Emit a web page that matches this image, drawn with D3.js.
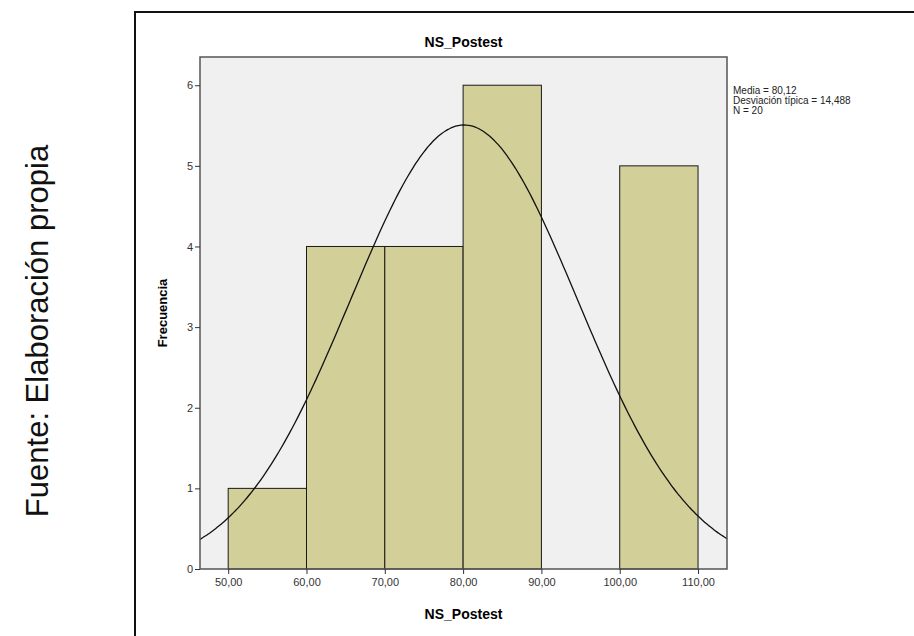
<!DOCTYPE html>
<html>
<head>
<meta charset="utf-8">
<script src="https://cdn.jsdelivr.net/npm/d3@7"></script>
<style>
  body { margin: 0; background: #fff; }
  svg text { font-family: Arial, "Liberation Sans", sans-serif; }
  .tick text { font-size: 11px; fill: #333; }
  .tick line { stroke: #333; }
</style>
</head>
<body>
<svg id="chart"></svg>
<script>
// Histogram bins (lower edge, upper edge) and counts
const binStarts = [50, 60, 70, 80, 90, 100];
const binEnds = [60, 70, 80, 90, 100, 110];
const counts = [1, 4, 4, 6, 0, 5];

// Summary stats printed beside the chart (used for the normal curve)
const mean = 80.12;
const stdDev = 14.488;
const nTotal = 20;

const xTicks = [50, 60, 70, 80, 90, 100, 110];
const yTicks = [0, 1, 2, 3, 4, 5, 6];
const statLines = ['Media = 80,12', 'Desviación típica = 14,488', 'N = 20'];

const width = 914, height = 636;
const margin = { top: 57, right: 187, bottom: 67, left: 200 };
const innerW = width - margin.left - margin.right;
const innerH = height - margin.top - margin.bottom;

const svg = d3.select('#chart')
  .attr('width', width)
  .attr('height', height);

// source note on the far left
svg.append('text')
  .attr('transform', `translate(48,${331}) rotate(-90)`)
  .attr('text-anchor', 'middle')
  .style('font-size', '31px')
  .style('fill', '#111')
  .text('Fuente: Elaboración propia');

// outer frame of the figure
svg.append('path')
  .attr('d', `M135,${height} V12 H${width}`)
  .attr('fill', 'none')
  .attr('stroke', '#111')
  .attr('stroke-width', 2);

const chart = svg.append('g')
  .attr('transform', `translate(${margin.left},${margin.top})`);

const xScale = d3.scaleLinear().domain([46.4, 113.7]).range([0, innerW]);
const yScale = d3.scaleLinear().domain([0, 6.35]).range([innerH, 0]);

chart.append('rect')
  .attr('width', innerW)
  .attr('height', innerH)
  .attr('fill', '#f0f0f0');

// bars
chart.selectAll('.bar')
  .data(counts.map((c, i) => ({ x0: binStarts[i], x1: binEnds[i], c })).filter(d => d.c > 0))
  .join('rect')
  .attr('class', 'bar')
  .attr('x', d => xScale(d.x0))
  .attr('width', d => xScale(d.x1) - xScale(d.x0))
  .attr('y', d => yScale(d.c))
  .attr('height', d => yScale(0) - yScale(d.c))
  .attr('fill', '#d3cf98')
  .attr('stroke', '#1a1a1a')
  .attr('stroke-width', 1);

// fitted normal curve, scaled to counts with bin width 10
const binWidth = 10;
const [xa, xb] = xScale.domain();
const curvePts = d3.range(0, 201).map(i => {
  const x = xa + (xb - xa) * i / 200;
  const z = (x - mean) / stdDev;
  return [x, nTotal * binWidth * Math.exp(-0.5 * z * z) / (stdDev * Math.sqrt(2 * Math.PI))];
});
chart.append('path')
  .datum(curvePts)
  .attr('fill', 'none')
  .attr('stroke', '#111')
  .attr('stroke-width', 1.3)
  .attr('d', d3.line().x(d => xScale(d[0])).y(d => yScale(d[1])).curve(d3.curveBasis));

// plot border
chart.append('rect')
  .attr('width', innerW)
  .attr('height', innerH)
  .attr('fill', 'none')
  .attr('stroke', '#555')
  .attr('stroke-width', 1.5);

// axes
const xAxis = d3.axisBottom(xScale)
  .tickValues(xTicks)
  .tickSize(5)
  .tickPadding(4)
  .tickFormat(d => d3.format('.2f')(d).replace('.', ','));
const yAxis = d3.axisLeft(yScale)
  .tickValues(yTicks)
  .tickSize(5)
  .tickPadding(2)
  .tickFormat(d3.format('d'));

chart.append('g')
  .attr('transform', `translate(0,${innerH})`)
  .call(xAxis)
  .call(g => g.select('.domain').remove());

chart.append('g')
  .call(yAxis)
  .call(g => g.select('.domain').remove());

// titles
chart.append('text')
  .attr('x', innerW / 2)
  .attr('y', -10)
  .attr('text-anchor', 'middle')
  .style('font-size', '14px')
  .style('font-weight', 'bold')
  .text('NS_Postest');

chart.append('text')
  .attr('x', innerW / 2)
  .attr('y', innerH + 50)
  .attr('text-anchor', 'middle')
  .style('font-size', '14px')
  .style('font-weight', 'bold')
  .text('NS_Postest');

chart.append('text')
  .attr('transform', `translate(-33,${innerH / 2}) rotate(-90)`)
  .attr('text-anchor', 'middle')
  .style('font-size', '13px')
  .style('font-weight', 'bold')
  .text('Frecuencia');

// stats box text
chart.append('g')
  .selectAll('text')
  .data(statLines)
  .join('text')
  .attr('x', innerW + 6)
  .attr('y', (d, i) => 37 + i * 10)
  .style('font-size', '10px')
  .style('fill', '#222')
  .text(d => d);
</script>
</body>
</html>
